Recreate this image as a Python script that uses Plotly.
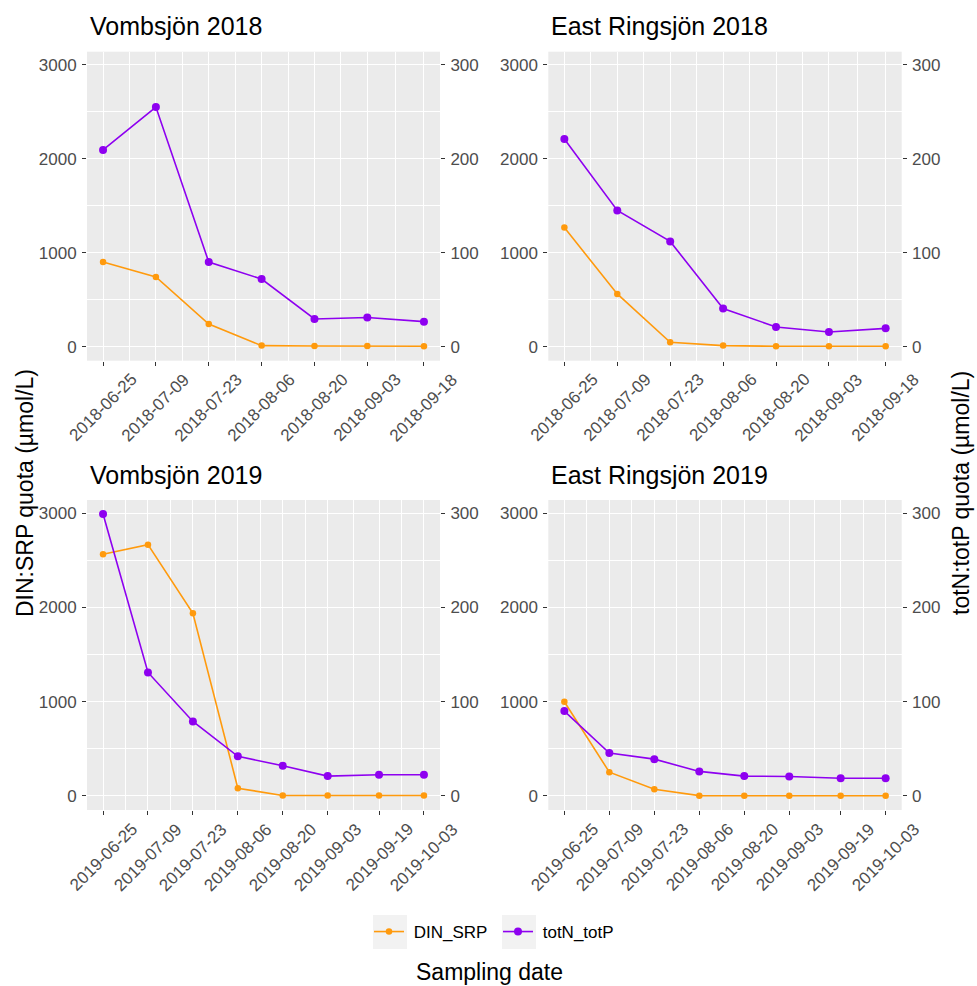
import pandas as pd
import plotly.graph_objects as go

# ---------------- data ----------------
dates_2018 = ["2018-06-25", "2018-07-09", "2018-07-23", "2018-08-06",
              "2018-08-20", "2018-09-03", "2018-09-18"]
dates_2019 = ["2019-06-25", "2019-07-09", "2019-07-23", "2019-08-06",
              "2019-08-20", "2019-09-03", "2019-09-19", "2019-10-03"]

vomb_2018_din_srp = [900, 742, 241, 11, 7, 7, 4]
vomb_2018_totn_totp = [209.4, 255, 90, 72, 29.5, 31, 26.6]
ering_2018_din_srp = [1267, 561, 46, 11, 4, 4, 4]
ering_2018_totn_totp = [221, 145, 112, 40.5, 21, 15.6, 19.5]
vomb_2019_din_srp = [2563, 2666, 1937, 82, 4, 4, 4, 4]
vomb_2019_totn_totp = [299, 131, 79, 42, 32, 21, 22.4, 22.4]
ering_2019_din_srp = [999, 252, 71, 3, 2, 2, 2, 2]
ering_2019_totn_totp = [90, 45.5, 39, 26, 21, 20.6, 18.8, 18.8]

panel_titles = ["Vombsjön 2018", "East Ringsjön 2018", "Vombsjön 2019", "East Ringsjön 2019"]
series_names = ["DIN_SRP", "totN_totP"]
left_ticks = [0, 1000, 2000, 3000]
right_ticks = [0, 100, 200, 300]
sec_factor = 10
y_left_title = "DIN:SRP quota (µmol/L)"
y_right_title = "totN:totP quota (µmol/L)"
x_title = "Sampling date"

panels = [
    (panel_titles[0], dates_2018, vomb_2018_din_srp, vomb_2018_totn_totp),
    (panel_titles[1], dates_2018, ering_2018_din_srp, ering_2018_totn_totp),
    (panel_titles[2], dates_2019, vomb_2019_din_srp, vomb_2019_totn_totp),
    (panel_titles[3], dates_2019, ering_2019_din_srp, ering_2019_totn_totp),
]

# ---------------- style / layout ----------------
W, H = 977, 986
FONT = "Liberation Sans, Arial, Helvetica, sans-serif"
ORANGE = "#FF9A0D"
PURPLE = "#8E00F0"
PANEL_BG = "#EBEBEB"
KEY_BG = "#F2F2F2"
TICK_COL = "#333333"
LAB_COL = "#4D4D4D"
TICK_SIZE = 17

# panel boxes in pixels: (left, right, top, bottom)
boxes = [(87, 440, 51.7, 360.7), (548.3, 901.7, 51.7, 360.7),
         (87, 440, 500, 810), (548.3, 901.7, 500, 810)]


def px_x(v):
    return v / W


def px_y(v):
    return 1 - v / H


# shared y range (ggplot 5% expansion)
all_vals = []
for _, _, din, tot in panels:
    all_vals += list(din) + [t * sec_factor for t in tot]
lo, hi = min(all_vals + [0]), max(all_vals)
pad = 0.05 * (hi - lo)
y_range = [lo - pad, hi + pad]

fig = go.Figure()
layout = dict(
    width=W, height=H,
    margin=dict(l=0, r=0, t=0, b=0, autoexpand=False),
    paper_bgcolor="white",
    plot_bgcolor=PANEL_BG,
    font=dict(family=FONT, size=TICK_SIZE, color=LAB_COL),
    showlegend=True,
)

annotations = []
tickfont = dict(family=FONT, size=TICK_SIZE, color=LAB_COL)

for i, (title, dates, din, tot) in enumerate(panels):
    n = i + 1
    xl, xr, yt, yb = boxes[i]
    d = pd.to_datetime(dates)
    span = d.max() - d.min()
    xr_range = [d.min() - 0.05 * span, d.max() + 0.05 * span]
    mids = [d[k] + (d[k + 1] - d[k]) / 2 for k in range(len(d) - 1)]

    xa = "x" if n == 1 else f"x{n}"
    ya = "y" if n == 1 else f"y{n}"
    ya2 = f"y{n + 4}"

    layout[f"xaxis{'' if n == 1 else n}"] = dict(
        domain=[px_x(xl), px_x(xr)], anchor=ya, type="date", automargin=False,
        range=[x.strftime("%Y-%m-%d %H:%M") for x in xr_range],
        tickmode="array", tickvals=list(d), showticklabels=False,
        ticks="outside", ticklen=4, tickwidth=1.1, tickcolor=TICK_COL,
        showgrid=True, gridcolor="white", gridwidth=1.1,
        zeroline=False, showline=False,
        minor=dict(tickmode="array", tickvals=mids, showgrid=True,
                   gridcolor="white", gridwidth=0.55, ticks=""),
    )
    layout[f"yaxis{'' if n == 1 else n}"] = dict(
        domain=[px_y(yb), px_y(yt)], anchor=xa, range=y_range, automargin=False,
        tickmode="array", tickvals=left_ticks,
        ticks="outside", ticklen=4, tickwidth=1.1, tickcolor=TICK_COL,
        tickfont=tickfont, showgrid=True, gridcolor="white", gridwidth=1.1,
        zeroline=False, showline=False, ticklabelstandoff=2,
        minor=dict(dtick=500, tick0=0, showgrid=True, gridcolor="white",
                   gridwidth=0.55, ticks=""),
    )
    layout[f"yaxis{n + 4}"] = dict(
        overlaying=ya, anchor=xa, side="right", automargin=False,
        range=[y_range[0] / sec_factor, y_range[1] / sec_factor],
        tickmode="array", tickvals=right_ticks,
        ticks="outside", ticklen=4, tickwidth=1.1, tickcolor=TICK_COL,
        tickfont=tickfont, showgrid=False, zeroline=False, showline=False,
        ticklabelstandoff=2,
    )

    fig.add_trace(go.Scatter(
        x=list(d), y=din, name=" " + series_names[0], mode="lines+markers",
        line=dict(color=ORANGE, width=1.6), marker=dict(color=ORANGE, size=6.5),
        xaxis=xa, yaxis=ya, legend="legend", showlegend=(n == 1),
    ))
    fig.add_trace(go.Scatter(
        x=list(d), y=tot, name=" " + series_names[1], mode="lines+markers",
        line=dict(color=PURPLE, width=1.6), marker=dict(color=PURPLE, size=8),
        xaxis=xa, yaxis=ya2, legend="legend2", showlegend=(n == 1),
    ))

    # rotated date labels centred under each tick (ggplot angle = 45 style)
    for dt, lab in zip(d, dates):
        annotations.append(dict(
            text=lab, xref=xa, yref="paper", x=dt, y=px_y(yb + 47),
            xanchor="center", yanchor="middle", textangle=-45, showarrow=False,
            font=tickfont,
        ))

    annotations.append(dict(
        text=title, xref="paper", yref="paper", x=px_x(xl + 1), y=px_y(yt - 25.5),
        xanchor="left", yanchor="middle", showarrow=False,
        font=dict(family=FONT, size=25, color="black"),
    ))

annotations += [
    dict(text=y_left_title, xref="paper", yref="paper", x=px_x(25), y=px_y(493),
         xanchor="center", yanchor="middle", textangle=-90, showarrow=False,
         font=dict(family=FONT, size=23, color="black")),
    dict(text=y_right_title, xref="paper", yref="paper", x=px_x(961), y=px_y(493),
         xanchor="center", yanchor="middle", textangle=-90, showarrow=False,
         font=dict(family=FONT, size=23, color="black")),
    dict(text=x_title, xref="paper", yref="paper", x=px_x(490), y=px_y(972),
         xanchor="center", yanchor="middle", showarrow=False,
         font=dict(family=FONT, size=23, color="black")),
]

# legend keys (grey boxes like ggplot's legend.key)
key_centers = [390, 519]
shapes = []
for cx in key_centers:
    shapes.append(dict(type="rect", xref="paper", yref="paper",
                       x0=px_x(cx - 17), x1=px_x(cx + 17),
                       y0=px_y(949), y1=px_y(915),
                       fillcolor=KEY_BG, line=dict(width=0), layer="below"))

leg_common = dict(
    orientation="h", xanchor="left", yanchor="middle", y=px_y(932),
    font=dict(family=FONT, size=17, color="black"), bgcolor="rgba(0,0,0,0)",
    itemwidth=30, borderwidth=0,
)
layout["legend"] = dict(x=px_x(key_centers[0] - 21), **leg_common)
layout["legend2"] = dict(x=px_x(key_centers[1] - 21), **leg_common)
layout["annotations"] = annotations
layout["shapes"] = shapes

fig.update_layout(**layout)
fig.write_html("out.html")
